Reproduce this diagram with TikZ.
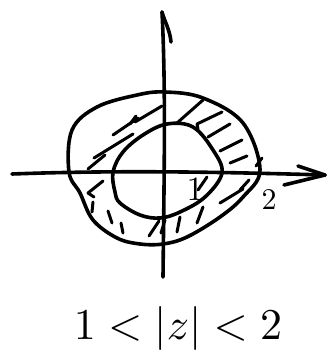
\documentclass[tikz,border=0pt]{standalone}
\begin{document}
\begin{tikzpicture}[x=1pt,y=-1pt,
  ink/.style={line width=3.6pt,line cap=round,line join=round,black},
  hatch/.style={line width=3pt,line cap=round,line join=round,black},
  lbl/.style={inner sep=0pt}]
\useasboundingbox (0,0) rectangle (331,353);
% axes
\coordinate (xl) at (12,174);
\coordinate (xr) at (325,175);
\coordinate (xb1) at (298,166);
\coordinate (xb2) at (284,185);
\coordinate (yb) at (163,277);
\coordinate (yt) at (162,12);
\coordinate (ybarb) at (171,42);
\draw[ink] (xl) .. controls (120,170) and (220,172) .. (xr);
\draw[ink] (xb1) -- (xr) -- (xb2);
\draw[ink] (yb) .. controls (164,180) and (166,90) .. (yt);
\draw[ink] (yt) .. controls (164,20) and (170,30) .. (ybarb);
% outer circle
\draw[ink] plot[smooth cycle,tension=0.6] coordinates {(69,172) (72,130) (97,107) (137,95) (165,92) (203,98) (243,123) (260,170) (243,197) (220,217) (187,237) (163,244) (140,244) (117,238) (93,220) (80,193)};
% inner circle
\draw[ink] plot[smooth cycle,tension=0.6] coordinates {(113,172) (123,152) (143,135) (167,124) (193,127) (213,150) (222,173) (205,197) (180,212) (160,218) (140,215) (120,203) (115,192)};
% hatching upper right
\draw[hatch] (177,123) -- (203,100);
\draw[hatch] (198,129) -- (197,124) -- (222,112);
\draw[hatch] (208,137) -- (230,124);
\draw[hatch] (220,151) -- (242,140);
\draw[hatch] (230,163) -- (247,156);
\draw[hatch] (256,166) -- (262,158);
% upper left
\draw[hatch] (88,169) -- (105,155);
\draw[hatch] (94,158) -- (133,134);
\draw[hatch] (113,135) -- (138,118);
\draw[hatch] (130,124) -- (136,116);
\draw[hatch] (135,122) -- (162,106);
% lower left
\draw[hatch] (103,181) -- (88,193) -- (94,197);
\draw[hatch] (93,202) -- (92,212);
\draw[hatch] (108,211) -- (112,223);
\draw[hatch] (121,223) -- (123,233);
\draw[hatch] (149,236) -- (159,221);
\draw[hatch] (161,233) -- (165,220);
% lower right
\draw[hatch] (180,217) -- (177,232);
\draw[hatch] (203,207) -- (197,223);
\draw[hatch] (207,177) -- (198,190);
\draw[hatch] (243,189) -- (220,203);
\draw[hatch] (249,180) -- (240,190);
% labels
\node[lbl,scale=3.4] (one) at (195,189) {1};
\node[lbl,scale=3] (two) at (269,200) {2};
\node[inner sep=0pt,scale=4.4] (ineq) at (178,328) {$1<|z|<2$};
\end{tikzpicture}
\end{document}
